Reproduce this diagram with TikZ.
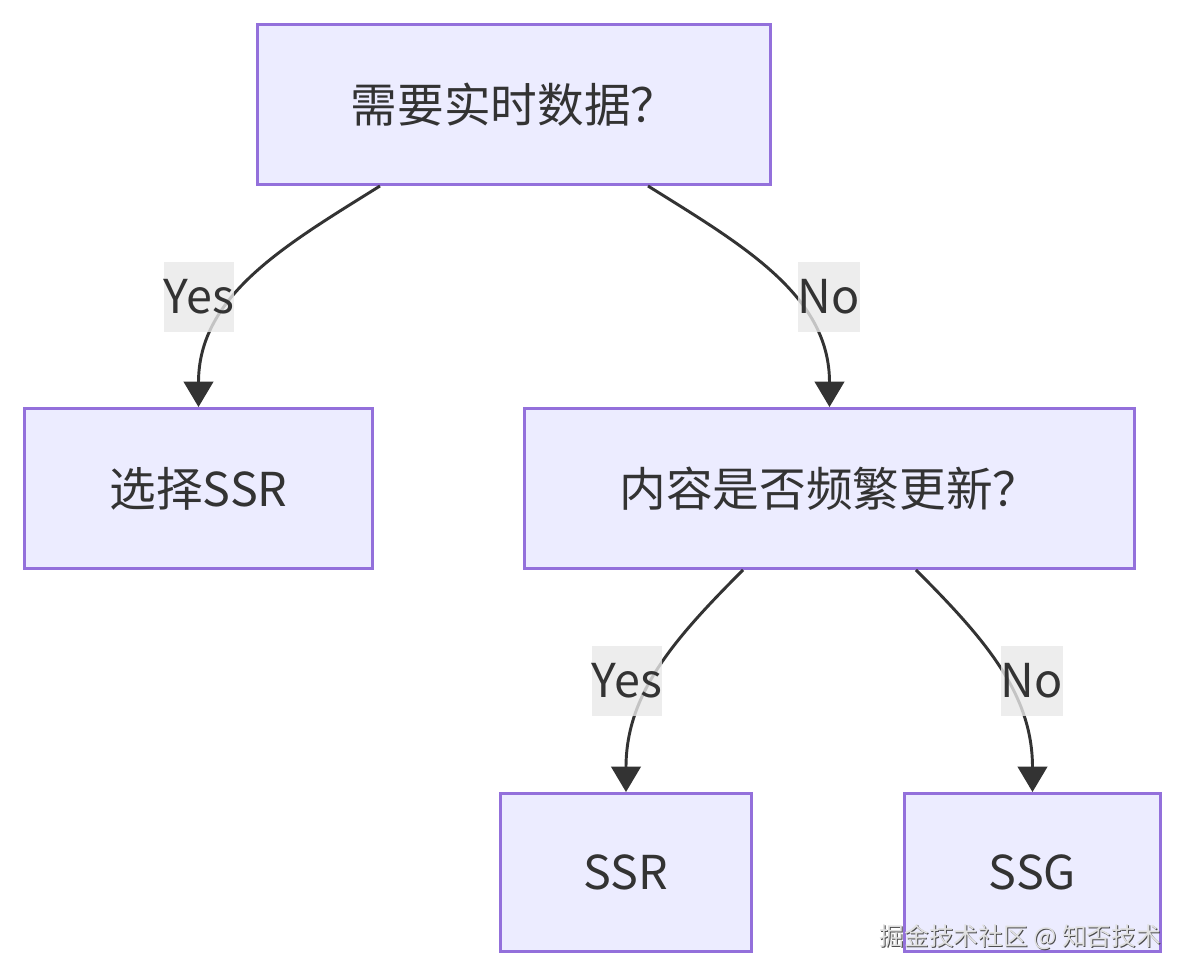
\documentclass[tikz,border=0pt]{standalone}
\usepackage{fontspec}
\setmainfont{Noto Sans CJK SC}
\usetikzlibrary{calc,arrows.meta}
\definecolor{boxfill}{HTML}{ECECFF}
\definecolor{boxline}{HTML}{9370DB}
\definecolor{ink}{HTML}{333333}
\definecolor{lblfill}{HTML}{E8E8E8}

\begin{document}
\begin{tikzpicture}[x=0.75pt,y=-0.75pt,
		box/.style={draw=boxline,fill=boxfill,line width=2.2pt,text=ink,font=\fontsize{35}{42}\selectfont,minimum height=120pt,inner sep=0pt},
		edge/.style={draw=ink,line width=2.2pt,-{Triangle[width=22pt,length=19pt]}},
		lbl/.style={fill=lblfill,fill opacity=0.8,text opacity=1,text=ink,font=\fontsize{35}{42}\selectfont,inner sep=0pt,minimum height=52.5pt}]
		\useasboundingbox (0,0) rectangle (1186,978);
		\node[box,minimum width=385pt] (data) at (514,104.5) {需要实时数据？};
		\node[box,minimum width=261pt] (pick) at (198.5,488.5) {选择SSR};
		\node[box,minimum width=457.5pt] (often) at (829.5,488.5) {内容是否频繁更新？};
		\node[box,minimum width=188pt,minimum height=118.5pt] (ssr) at (626,872.5) {SSR};
		\node[box,minimum width=192pt,minimum height=118.5pt] (ssg) at (1032.5,872.5) {SSG};
		\draw[edge] ($(data.south)+(-134,0)$) to[out=-148,in=90] (pick.north);
		\draw[edge] ($(data.south)+(134,0)$) to[out=-32,in=90] (often.north);
		\draw[edge] ($(often.south)+(-86.5,0)$) to[out=-135,in=90] (ssr.north);
		\draw[edge] ($(often.south)+(86.5,0)$) to[out=-45,in=90] (ssg.north);
		\node[lbl] (yes1) at (199,297) {Yes};
		\node[lbl] (no1) at (829,297) {No};
		\node[lbl] (yes2) at (627,681) {Yes};
		\node[lbl] (no2) at (1032,681) {No};
		% watermark
		\node[anchor=east,text=black!70,font=\fontsize{18.5}{22}\selectfont,inner sep=0pt] (markshadow) at (1162.2,938.2) {掘金技术社区 @ 知否技术};
		\node[anchor=east,text=black!12,font=\fontsize{18.5}{22}\selectfont,inner sep=0pt] (mark) at (1161,937) {掘金技术社区 @ 知否技术};
	\end{tikzpicture}
\end{document}
